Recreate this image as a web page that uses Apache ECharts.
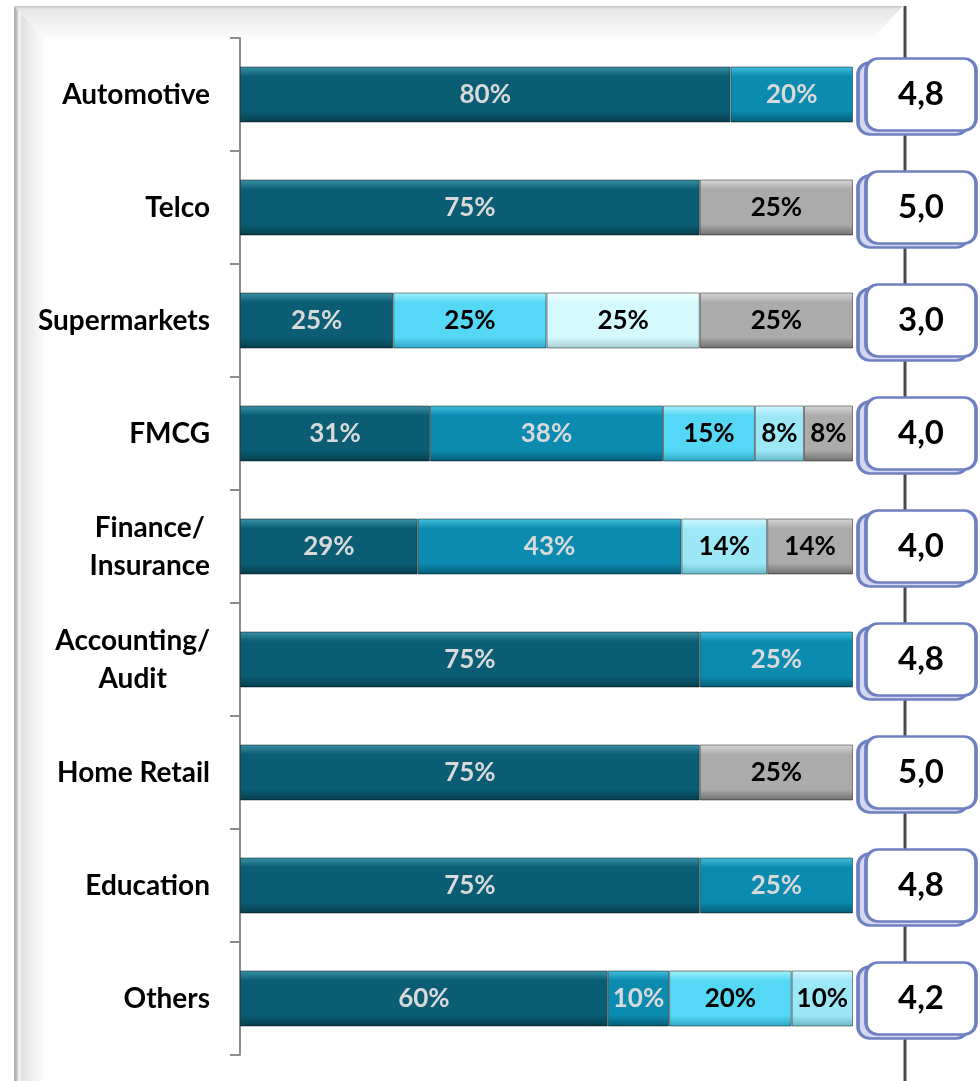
<!DOCTYPE html>
<html>
<head>
<meta charset="utf-8">
<script src="https://cdn.jsdelivr.net/npm/echarts@6/dist/echarts.min.js"></script>
<style>
    html, body {margin:0;padding:0;background:#ffffff;}
    #chart {width:980px;height:1081px;}
</style>
</head>
<body>
<div id="chart"></div>
<script>
    // categories, top to bottom
    var categories = ['Automotive', 'Telco', 'Supermarkets', 'FMCG', 'Finance/\nInsurance',
        'Accounting/\nAudit', 'Home Retail', 'Education', 'Others'];
    // share of answers per rating (%)
    var rating5 = [80, 75, 25, 31, 29, 75, 75, 75, 60];
    var rating4 = [20, 0, 0, 38, 43, 25, 0, 25, 10];
    var rating3 = [0, 0, 25, 15, 0, 0, 0, 0, 20];
    var rating2 = [0, 0, 0, 8, 14, 0, 0, 0, 10];
    var rating1 = [0, 0, 25, 0, 0, 0, 0, 0, 0];
    var noAnswer = [0, 25, 25, 8, 14, 0, 25, 0, 0];
    // average score per sector
    var scores = [4.8, 5.0, 3.0, 4.0, 4.0, 4.8, 5.0, 4.8, 4.2];

    var FONT = 'Lato, "Open Sans", sans-serif';
    var BOX = 'path://M12,0 H98 A12,12 0 0 1 110,12 V60 A12,12 0 0 1 98,72 H12 A12,12 0 0 1 0,60 V12 A12,12 0 0 1 12,0 Z';

    function grad(light, main, dark) {
        return new echarts.graphic.LinearGradient(0, 0, 0, 1, [
            {offset: 0, color: light},
            {offset: 0.18, color: main},
            {offset: 0.8, color: main},
            {offset: 1, color: dark}
        ]);
    }

    function barSeries(name, data, colors, labelColor) {
        return {
            name: name,
            type: 'bar',
            stack: 'total',
            barWidth: 56,
            xAxisIndex: 0,
            yAxisIndex: 0,
            data: data.map(function (v) { return v ? v : null; }),
            itemStyle: {
                color: grad(colors[0], colors[1], colors[2]),
                borderColor: 'rgba(0,0,0,0.45)',
                borderWidth: 1
            },
            label: {
                show: true,
                position: 'inside',
                formatter: function (p) { return p.value + '%'; },
                color: labelColor,
                fontFamily: FONT,
                fontWeight: 'bold',
                fontSize: 26
            }
        };
    }

    var chart = echarts.init(document.getElementById('chart'));

    var option = {
        backgroundColor: '#ffffff',
        animation: false,
        graphic: [
            {
                type: 'polygon', z: -10,
                shape: {points: [[14, 6], [903, 6], [873, 38], [45, 38]]},
                style: {fill: new echarts.graphic.LinearGradient(0, 0, 0, 1, [
                    {offset: 0, color: '#c4c4c4'},
                    {offset: 0.1, color: '#e6e6e6'},
                    {offset: 1, color: '#fcfcfc'}
                ])}
            },
            {
                type: 'polygon', z: -9,
                shape: {points: [[14, 6], [45, 38], [45, 1081], [14, 1081]]},
                style: {fill: new echarts.graphic.LinearGradient(0, 0, 1, 0, [
                    {offset: 0, color: '#a8a8a8'},
                    {offset: 0.1, color: '#c4c4c4'},
                    {offset: 0.16, color: '#f8f8f8'},
                    {offset: 0.26, color: '#e0e0e0'},
                    {offset: 1, color: '#ffffff'}
                ])}
            },
            {
                type: 'line', z: -8,
                shape: {x1: 905, y1: 6, x2: 905, y2: 1081},
                style: {stroke: '#4a4a4a', lineWidth: 3}
            }
        ],
        grid: [
            {left: 240, top: 38, width: 613, height: 1017},
            {left: 866, top: 38, width: 110, height: 1017}
        ],
        xAxis: [
            {gridIndex: 0, type: 'value', min: 0, max: 100, show: false},
            {gridIndex: 1, type: 'category', data: ['score'], show: false}
        ],
        yAxis: [
            {
                gridIndex: 0,
                type: 'category',
                inverse: true,
                data: categories,
                axisLine: {show: true, lineStyle: {color: '#8c8c8c', width: 2}},
                axisTick: {show: true, length: 10, lineStyle: {color: '#8c8c8c', width: 2}},
                axisLabel: {
                    margin: 30,
                    align: 'right',
                    formatter: function (v) {
                        return v.split('\n').map(function (s) { return '{c|' + s + '}'; }).join('\n');
                    },
                    rich: {
                        c: {
                            align: 'center',
                            color: '#000000',
                            fontFamily: FONT,
                            fontWeight: 'bold',
                            fontSize: 28,
                            lineHeight: 38
                        }
                    }
                }
            },
            {gridIndex: 1, type: 'category', inverse: true, data: categories, show: false}
        ],
        series: [
            barSeries('5', rating5, ['#3a93a8', '#0a5d73', '#053d4c'], '#d9d9d9'),
            barSeries('4', rating4, ['#46c0de', '#0b8bb0', '#055a74'], '#d9d9d9'),
            barSeries('3', rating3, ['#aaf0fc', '#55d8f5', '#2ea6c2'], '#000000'),
            barSeries('2', rating2, ['#d6f8fe', '#9de8f7', '#68b8c8'], '#000000'),
            barSeries('1', rating1, ['#f4ffff', '#d5fafd', '#a4ccd2'], '#000000'),
            barSeries('n/a', noAnswer, ['#d8d8d8', '#ababab', '#6e6e6e'], '#000000'),
            {
                type: 'scatter',
                xAxisIndex: 1,
                yAxisIndex: 1,
                z: 3,
                symbol: BOX,
                symbolSize: [110, 72],
                symbolKeepAspect: false,
                symbolOffset: [-8, 4],
                data: categories.map(function (c, i) { return ['score', c, scores[i]]; }),
                itemStyle: {color: '#d3d7ef', borderColor: '#6f80c0', borderWidth: 3, opacity: 1},
                label: {show: false}
            },
            {
                type: 'scatter',
                xAxisIndex: 1,
                yAxisIndex: 1,
                z: 4,
                symbol: BOX,
                symbolSize: [110, 72],
                symbolKeepAspect: false,
                data: categories.map(function (c, i) { return ['score', c, scores[i]]; }),
                itemStyle: {color: '#ffffff', borderColor: '#6f80c0', borderWidth: 3, opacity: 1},
                label: {
                    show: true,
                    position: 'inside',
                    formatter: function (p) { return p.value[2].toFixed(1).replace('.', ','); },
                    color: '#000000',
                    fontFamily: FONT,
                    fontWeight: 'bold',
                    fontSize: 33
                }
            }
        ]
    };
    chart.setOption(option);
</script>
</body>
</html>
